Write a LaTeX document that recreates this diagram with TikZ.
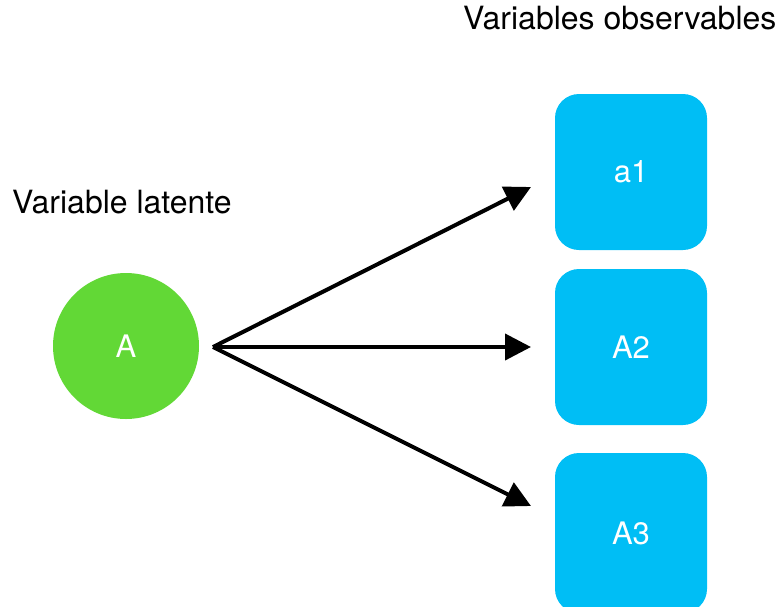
\documentclass[tikz,border=0pt]{standalone}
\usepackage{fontspec}
\setmainfont{TeX Gyre Heros}
\usetikzlibrary{arrows.meta}
\begin{document}
\begin{tikzpicture}[x=1pt,y=-1pt,
  lat/.style={circle,fill=latgreen,minimum size=146pt,inner sep=0pt,text=white,font=\fontsize{31}{36}\selectfont},
  obs/.style={rounded corners=24pt,fill=obsblue,minimum width=152pt,minimum height=156pt,inner sep=0pt,text=white,font=\fontsize{31}{36}\selectfont},
  lbl/.style={inner sep=0pt,font=\fontsize{32}{38}\selectfont,anchor=base west},
  arr/.style={line width=4pt,-{Triangle[length=26pt,width=26pt]}}]
\definecolor{latgreen}{HTML}{62D836}
\definecolor{obsblue}{HTML}{00BEF5}
\useasboundingbox (0,0) rectangle (777,606);
\node[lat] (A) at (126,346) {A};
\node[obs] (a1) at (631,172) {a1};
\node[obs] (a2) at (631,347) {A2};
\node[obs,minimum height=160pt] (a3) at (631,533) {A3};
\node[lbl] (tl) at (12,213) {Variable latente};
\node[lbl] (to) at (463,29) {Variables observables};
\coordinate (s) at (213,347);
\coordinate (e1) at (531,187);
\coordinate (e2) at (531,347);
\coordinate (e3) at (531,506);
\draw[arr] (s) -- (e1);
\draw[arr] (s) -- (e2);
\draw[arr] (s) -- (e3);
\end{tikzpicture}
\end{document}
